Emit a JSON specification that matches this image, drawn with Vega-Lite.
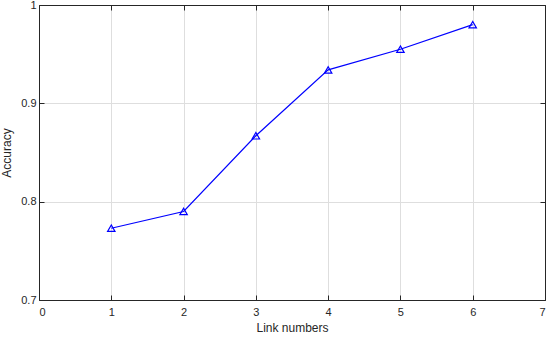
{
  "$schema": "https://vega.github.io/schema/vega-lite/v6.json",
  "autosize": "none",
  "width": 506,
  "height": 295,
  "padding": {"left": 39, "top": 5, "right": 5, "bottom": 37},
  "background": "white",
  "config": {
    "view": {"stroke": "#262626", "strokeWidth": 1},
    "font": "Liberation Sans",
    "axis": {
      "domainColor": "#262626",
      "tickColor": "#262626",
      "labelColor": "#262626",
      "titleColor": "#262626",
      "labelFont": "Liberation Sans",
      "titleFont": "Liberation Sans",
      "labelFontSize": 11,
      "titleFontSize": 12,
      "titleFontWeight": "normal",
      "gridColor": "#dedede",
      "gridWidth": 1,
      "tickSize": -5,
      "domainWidth": 1,
      "labelOverlap": false
    }
  },
  "data": {
    "values": [
      {"links": 1, "accuracy": 0.773},
      {"links": 2, "accuracy": 0.790},
      {"links": 3, "accuracy": 0.867},
      {"links": 4, "accuracy": 0.934},
      {"links": 5, "accuracy": 0.955},
      {"links": 6, "accuracy": 0.980}
    ]
  },
  "layer": [
    {
      "mark": {"type": "line", "color": "#0000ff", "strokeWidth": 1.2, "point": {"shape": "triangle-up", "filled": false, "size": 55, "color": "#0000ff", "strokeWidth": 1.2}},
      "encoding": {
        "x": {"field": "links", "type": "quantitative", "scale": {"domain": [0, 7], "nice": false}, "axis": {"title": "Link numbers", "values": [0,1,2,3,4,5,6,7], "format": "d", "labelPadding": 11, "titlePadding": 5}},
        "y": {"field": "accuracy", "type": "quantitative", "scale": {"domain": [0.7, 1], "nice": false, "zero": false}, "axis": {"title": "Accuracy", "values": [0.7, 0.8, 0.9, 1], "format": ".1~f", "labelPadding": 8, "titlePadding": 7}}
      }
    },
    {
      "mark": {"type": "point", "opacity": 0},
      "encoding": {
        "x": {"field": "links", "type": "quantitative", "scale": {"domain": [0, 7], "nice": false}, "axis": {"orient": "top", "title": null, "labels": false, "grid": false, "values": [0,1,2,3,4,5,6,7]}},
        "y": {"field": "accuracy", "type": "quantitative", "scale": {"domain": [0.7, 1], "nice": false, "zero": false}, "axis": {"orient": "right", "title": null, "labels": false, "grid": false, "values": [0.7, 0.8, 0.9, 1]}}
      }
    }
  ],
  "resolve": {"axis": {"x": "independent", "y": "independent"}}
}
